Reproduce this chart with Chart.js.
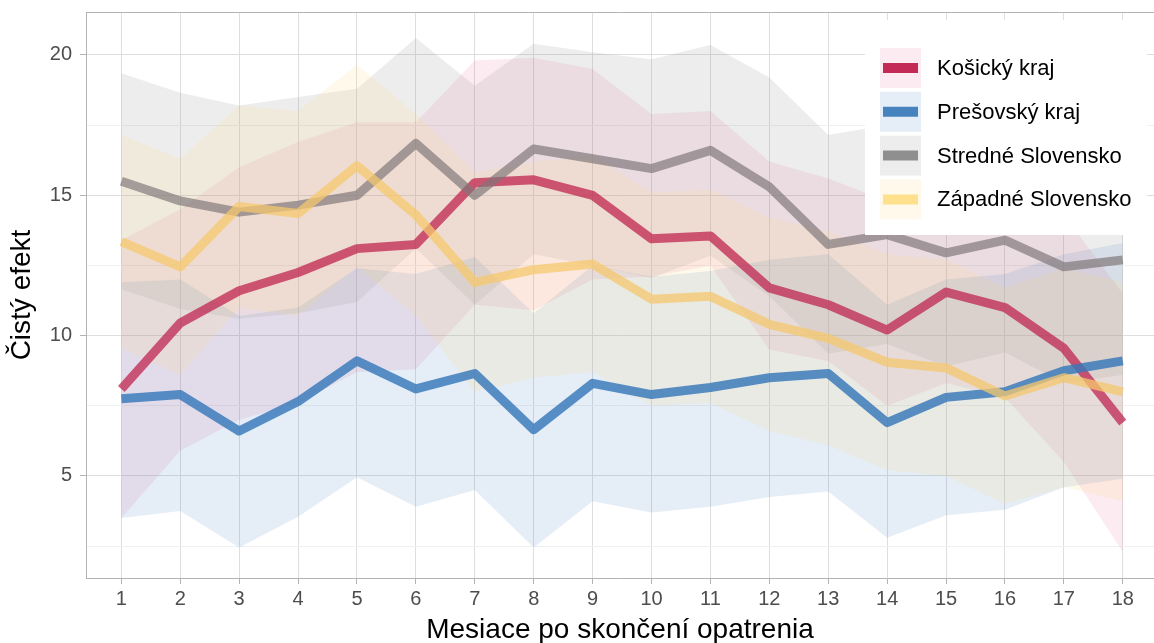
<!DOCTYPE html>
<html>
<head>
<meta charset="utf-8">
<script src="https://cdn.jsdelivr.net/npm/chart.js@4.4.1/dist/chart.umd.min.js"></script>
<style>
  html, body { margin: 0; background: #fff; }
  #wrap { width: 1154px; height: 643px; }
</style>
</head>
<body>
<div id="wrap"><canvas id="chart" width="1154" height="643"></canvas></div>
<script>
const months = [1, 2, 3, 4, 5, 6, 7, 8, 9, 10, 11, 12, 13, 14, 15, 16, 17, 18];
const yTicks = [2.5, 5, 7.5, 10, 12.5, 15, 17.5, 20];

const labels = ["Košický kraj", "Prešovský kraj", "Stredné Slovensko", "Západné Slovensko"];

const kosice   = [8.1, 10.45, 11.6, 12.25, 13.1, 13.25, 15.45, 15.55, 15.0, 13.45, 13.55, 11.7, 11.1, 10.2, 11.55, 11.0, 9.55, 6.9];
const kosiceLo = [3.5, 5.9, 7.0, 7.6, 8.7, 8.8, 11.1, 10.9, 12.0, 12.1, 12.5, 9.5, 9.1, 7.5, 8.3, 7.8, 5.5, 2.3];
const kosiceHi = [13.4, 14.5, 16.0, 16.9, 17.6, 17.6, 19.8, 19.9, 19.5, 17.9, 18.0, 16.2, 15.6, 14.8, 15.2, 14.9, 14.3, 11.5];

const presov   = [7.75, 7.9, 6.6, 7.65, 9.1, 8.1, 8.65, 6.65, 8.3, 7.9, 8.15, 8.5, 8.65, 6.9, 7.8, 8.0, 8.75, 9.1];
const presovLo = [3.5, 3.75, 2.45, 3.55, 4.95, 3.9, 4.5, 2.45, 4.1, 3.7, 3.9, 4.25, 4.45, 2.8, 3.6, 3.8, 4.6, 4.9];
const presovHi = [11.9, 12.0, 10.7, 11.0, 12.4, 12.2, 12.8, 10.8, 12.5, 12.1, 12.3, 12.7, 12.9, 11.1, 12.0, 12.2, 12.9, 13.3];

const stredne   = [15.5, 14.8, 14.4, 14.65, 15.0, 16.85, 15.0, 16.65, 16.3, 15.95, 16.6, 15.3, 13.25, 13.6, 12.95, 13.4, 12.45, 12.7];
const stredneLo = [11.65, 10.95, 10.6, 10.8, 11.2, 13.1, 11.1, 12.9, 12.5, 12.05, 12.85, 11.4, 9.35, 9.7, 8.9, 9.4, 8.3, 8.6];
const stredneHi = [19.35, 18.65, 18.2, 18.5, 18.8, 20.6, 18.9, 20.4, 20.1, 19.85, 20.35, 19.2, 17.15, 17.5, 17.0, 17.4, 16.6, 16.8];

const zapadne   = [13.35, 12.45, 14.6, 14.35, 16.05, 14.3, 11.9, 12.35, 12.55, 11.3, 11.4, 10.4, 9.9, 9.05, 8.85, 7.85, 8.5, 8.0];
const zapadneLo = [9.55, 8.6, 11.0, 10.7, 12.45, 10.7, 8.0, 8.5, 8.7, 7.5, 7.6, 6.6, 6.1, 5.2, 5.0, 4.0, 4.6, 4.1];
const zapadneHi = [17.15, 16.3, 18.2, 18.0, 19.65, 17.9, 15.8, 16.2, 16.4, 15.1, 15.2, 14.2, 13.7, 12.9, 12.7, 11.7, 12.4, 11.9];

// styles per series (same order as labels)
const lineColors = ["rgba(190,30,75,0.72)", "rgba(55,120,185,0.82)", "rgba(125,118,120,0.68)", "rgba(245,200,110,0.75)"];
const keyColors = ["#C32A55", "#4682BE", "#8F8F8F", "#FFE08C"];
const fillColors = ["rgba(230,60,110,0.1)", "rgba(70,130,200,0.14)", "rgba(150,150,150,0.17)", "rgba(255,215,120,0.15)"];

const seriesData = [
  { mid: kosice, lo: kosiceLo, hi: kosiceHi },
  { mid: presov, lo: presovLo, hi: presovHi },
  { mid: stredne, lo: stredneLo, hi: stredneHi },
  { mid: zapadne, lo: zapadneLo, hi: zapadneHi },
];

function pts(values) {
  return months.map((m, i) => ({ x: m, y: values[i] }));
}

const datasets = [];
seriesData.forEach((s, i) => {
  datasets.push({
    label: labels[i] + " hi",
    data: pts(s.hi),
    fill: "+1",
    backgroundColor: fillColors[i],
    borderWidth: 0,
    pointRadius: 0,
    order: 20 - i,
  });
  datasets.push({
    label: labels[i] + " lo",
    data: pts(s.lo),
    fill: false,
    borderWidth: 0,
    pointRadius: 0,
    order: 20 - i,
  });
});
seriesData.forEach((s, i) => {
  datasets.push({
    label: labels[i],
    data: pts(s.mid),
    fill: false,
    borderColor: lineColors[i],
    borderWidth: 9,
    borderCapStyle: "butt",
    borderJoinStyle: "round",
    pointRadius: 0,
    tension: 0,
    order: 5 - i,
  });
});

const panelFrame = {
  id: "panelFrame",
  afterDatasetsDraw(chart) {
    const { ctx, chartArea } = chart;
    ctx.save();
    ctx.strokeStyle = "#B3B3B3";
    ctx.lineWidth = 1;
    ctx.beginPath();
    ctx.moveTo(chartArea.left + 0.5, chartArea.bottom);
    ctx.lineTo(chartArea.left + 0.5, chartArea.top + 0.5);
    ctx.lineTo(chartArea.right, chartArea.top + 0.5);
    ctx.stroke();
    ctx.restore();
  },
};

const legendBox = {
  id: "legendBox",
  afterDraw(chart) {
    const ctx = chart.ctx;
    ctx.save();
    ctx.fillStyle = "#fff";
    ctx.fillRect(865, 20, 282, 215);
    labels.forEach((label, i) => {
      const y = 48 + i * 43.8;
      ctx.fillStyle = fillColors[i];
      ctx.fillRect(880, y, 41, 40);
      ctx.strokeStyle = keyColors[i];
      ctx.lineWidth = 10;
      ctx.beginPath();
      ctx.moveTo(883, y + 20);
      ctx.lineTo(918, y + 20);
      ctx.stroke();
      ctx.fillStyle = "#000";
      ctx.font = "22px 'Liberation Sans', Arial, sans-serif";
      ctx.textBaseline = "middle";
      ctx.fillText(label, 937, y + 21);
    });
    ctx.restore();
  },
};

const tickFont = { family: "'Liberation Sans', Arial, sans-serif", size: 20 };
const titleFont = { family: "'Liberation Sans', Arial, sans-serif", size: 28 };

new Chart(document.getElementById("chart"), {
  type: "line",
  data: { datasets },
  options: {
    responsive: false,
    animation: false,
    events: [],
    layout: { padding: { top: 12, left: 0, right: 0, bottom: 0 } },
    plugins: { legend: { display: false }, tooltip: { enabled: false } },
    scales: {
      x: {
        type: "linear",
        min: 0.4,
        max: 18.53,
        afterBuildTicks: (scale) => {
          scale.ticks = months.map((v) => ({ value: v }));
        },
        afterFit: (scale) => {
          scale.height = 65;
        },
        ticks: { font: tickFont, color: "#4D4D4D", padding: 3, autoSkip: false, maxRotation: 0 },
        grid: { color: "#DEDEDE", lineWidth: 1, tickLength: 6, tickColor: "#B3B3B3" },
        border: { display: true, color: "#B3B3B3" },
        title: { display: true, text: "Mesiace po skončení opatrenia", font: titleFont, color: "#000", padding: { top: 0, bottom: -4 } },
      },
      y: {
        type: "linear",
        min: 1.365,
        max: 21.53,
        afterBuildTicks: (scale) => {
          scale.ticks = yTicks.map((v) => ({ value: v }));
        },
        afterFit: (scale) => {
          scale.width = 86;
          scale.paddingTop = 0;
          scale.paddingBottom = 0;
        },
        ticks: {
          font: tickFont,
          color: "#4D4D4D",
          padding: 8,
          callback: (v) => (v % 5 === 0 ? String(v) : ""),
        },
        grid: {
          color: (ctx) => (ctx.tick && ctx.tick.value % 5 === 0 ? "#DEDEDE" : "#F0F0F0"),
          lineWidth: 1,
          tickLength: 6,
          tickColor: (ctx) => (ctx.tick && ctx.tick.value % 5 === 0 ? "#B3B3B3" : "rgba(0,0,0,0)"),
        },
        border: { display: true, color: "#B3B3B3" },
        title: { display: true, text: "Čistý efekt", font: titleFont, color: "#000", padding: { top: 5, bottom: 0 } },
      },
    },
  },
  plugins: [panelFrame, legendBox],
});
</script>
</body>
</html>
